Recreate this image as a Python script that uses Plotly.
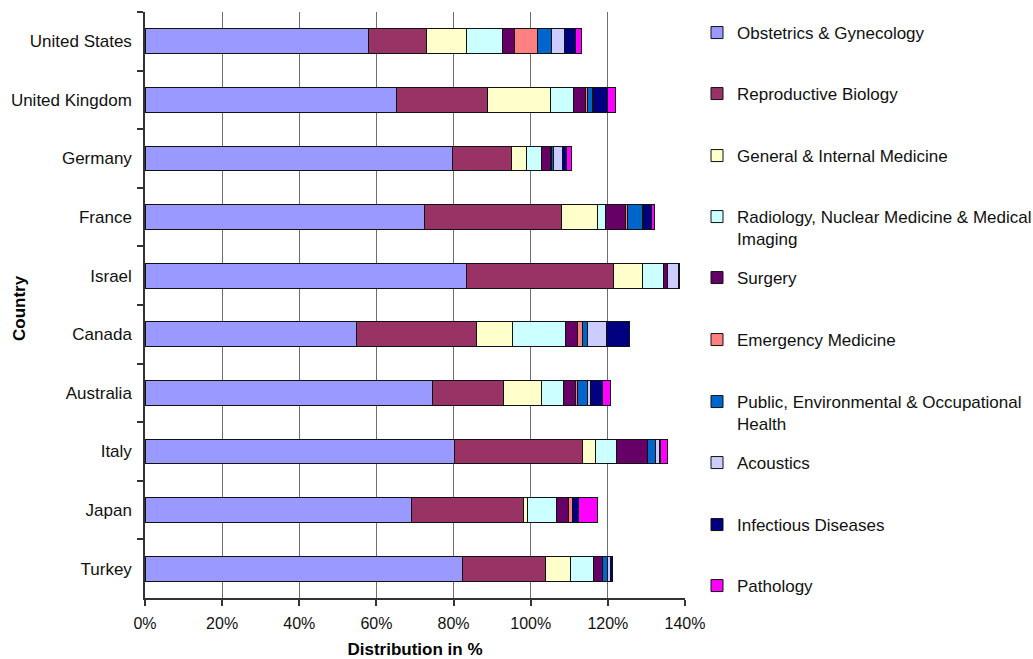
import plotly.graph_objects as go

countries = ["United States", "United Kingdom", "Germany", "France", "Israel",
             "Canada", "Australia", "Italy", "Japan", "Turkey"]

obstetrics_gynecology = [58.0, 65.3, 79.7, 72.5, 83.3, 54.8, 74.6, 80.3, 69.1, 82.4]
reproductive_biology = [15.1, 23.5, 15.2, 35.5, 38.1, 31.1, 18.4, 33.0, 29.0, 21.5]
general_internal_medicine = [10.2, 16.3, 4.1, 9.3, 7.7, 9.4, 9.7, 3.5, 1.0, 6.3]
radiology_imaging = [9.5, 5.9, 3.8, 2.0, 5.2, 13.7, 5.8, 5.5, 7.5, 6.0]
surgery = [3.0, 3.2, 2.3, 5.4, 1.1, 3.2, 3.0, 8.0, 3.3, 2.5]
emergency_medicine = [6.0, 0.6, 0.3, 0.4, 0.0, 1.1, 0.7, 0.0, 0.9, 0.0]
public_health = [3.5, 1.2, 0.6, 3.9, 0.0, 1.5, 2.6, 2.1, 0.0, 1.1]
acoustics = [3.4, 0.3, 2.3, 0.2, 2.8, 4.8, 0.6, 0.9, 0.0, 0.9]
infectious_diseases = [2.8, 3.5, 0.9, 2.1, 0.5, 6.0, 3.3, 0.3, 1.7, 0.5]
pathology = [1.6, 2.3, 1.3, 0.9, 0.0, 0.0, 2.0, 1.9, 4.8, 0.0]

series_names = [
    "Obstetrics & Gynecology",
    "Reproductive Biology",
    "General & Internal Medicine",
    "Radiology, Nuclear Medicine & Medical<br>Imaging",
    "Surgery",
    "Emergency Medicine",
    "Public, Environmental & Occupational<br>Health",
    "Acoustics",
    "Infectious Diseases",
    "Pathology",
]
series_values = [
    obstetrics_gynecology, reproductive_biology, general_internal_medicine,
    radiology_imaging, surgery, emergency_medicine, public_health,
    acoustics, infectious_diseases, pathology,
]
series_colors = ["#9999FF", "#993366", "#FFFFCC", "#CCFFFF", "#660066",
                 "#FF8080", "#0066CC", "#CCCCFF", "#000080", "#FF00FF"]

x_ticks = [0, 20, 40, 60, 80, 100, 120, 140]
x_tick_labels = ["0%", "20%", "40%", "60%", "80%", "100%", "120%", "140%"]

# vertical centre (px) of the first text line of each legend entry
legend_line_y = [33, 94, 156, 217, 278, 340, 402, 463, 525, 586]

FONT = "Liberation Sans, Arial, sans-serif"
W, H = 1033, 659
PLOT_LEFT, PLOT_RIGHT = 145, 685
PLOT_TOP, PLOT_BOTTOM = 12, 598
LEGEND_LEFT = 697
PLOT_W = PLOT_RIGHT - PLOT_LEFT
PLOT_H = PLOT_BOTTOM - PLOT_TOP

fig = go.Figure()
legend_layouts = {}
for i, (name, vals, col) in enumerate(zip(series_names, series_values, series_colors)):
    key = "legend" if i == 0 else f"legend{i + 1}"
    fig.add_trace(go.Bar(
        y=countries, x=vals, name=name, orientation="h",
        marker=dict(color=col, line=dict(color="#111111", width=1)),
        legend=key,
    ))
    ypx = legend_line_y[i] - 18
    legend_layouts[key] = dict(
        x=(LEGEND_LEFT - PLOT_LEFT) / PLOT_W, xanchor="left",
        y=(PLOT_BOTTOM - ypx) / PLOT_H, yanchor="top",
        bgcolor="rgba(0,0,0,0)", valign="top",
        font=dict(family=FONT, size=17, color="#111111"),
        itemwidth=30,
    )

fig.update_layout(
    barmode="stack",
    bargap=0.58,
    width=W, height=H,
    margin=dict(l=PLOT_LEFT, r=W - PLOT_RIGHT, t=PLOT_TOP, b=H - PLOT_BOTTOM,
                autoexpand=False),
    paper_bgcolor="white", plot_bgcolor="white",
    font=dict(family=FONT, size=16, color="#000000"),
    showlegend=True,
    **legend_layouts,
)

# y-axis title, placed in the left margin
fig.add_annotation(
    text="<b>Country</b>", textangle=-90,
    xref="paper", yref="paper",
    x=(19 - PLOT_LEFT) / PLOT_W, y=(PLOT_BOTTOM - 308) / PLOT_H,
    xanchor="center", yanchor="middle", showarrow=False,
    font=dict(family=FONT, size=17, color="#000000"),
)

fig.update_xaxes(
    range=[0, 140], tickvals=x_ticks, ticktext=x_tick_labels,
    automargin=False,
    showline=True, linecolor="#333333", linewidth=1.5,
    ticks="outside", ticklen=6, tickcolor="#333333", tickwidth=1.5,
    ticklabelstandoff=4,
    showgrid=True, gridcolor="#6e6e6e", gridwidth=1.2,
    zeroline=False,
    tickfont=dict(family=FONT, size=16, color="#111111"),
    title=dict(text="<b>Distribution in %</b>",
               font=dict(family=FONT, size=17, color="#000000")),
)
fig.update_yaxes(
    autorange="reversed",
    automargin=False,
    showline=True, linecolor="#333333", linewidth=1.5,
    ticks="outside", ticklen=6, tickcolor="#333333", tickwidth=1.5,
    tickson="boundaries",
    ticklabelstandoff=8,
    showgrid=False,
    tickfont=dict(family=FONT, size=17, color="#111111"),
)

fig.write_html("out.html")
